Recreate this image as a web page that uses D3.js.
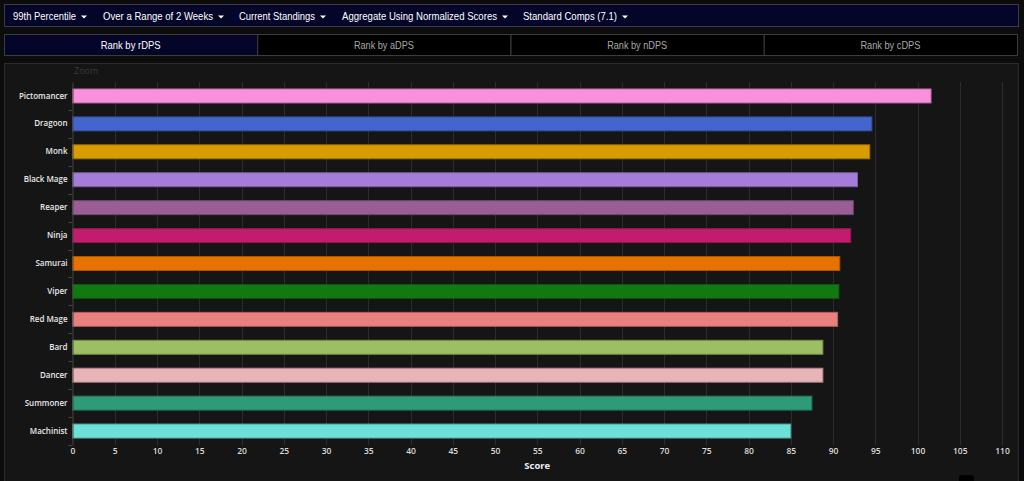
<!DOCTYPE html>
<html><head><meta charset="utf-8">
<script src="https://cdn.jsdelivr.net/npm/d3@7"></script>
<style>
html,body{margin:0;padding:0;background:#0c0c0c;width:1024px;height:481px;overflow:hidden;}
svg{display:block;}
</style></head>
<body><svg id="c" width="1024" height="481"></svg>
<script>
const categories = ["Pictomancer","Dragoon","Monk","Black Mage","Reaper","Ninja","Samurai","Viper","Red Mage","Bard","Dancer","Summoner","Machinist"];
const scores = [101.6, 94.6, 94.35, 92.9, 92.4, 92.1, 90.8, 90.7, 90.55, 88.8, 88.8, 87.5, 85.0];
const colors = ["#f990dd","#4466cc","#d99c00","#a67cdb","#9a5e95","#c21c6c","#e67300","#107a10","#e88080","#9bbf62","#e8b4b8","#2d9a78","#6de0d8"];
const xTicks = [0,5,10,15,20,25,30,35,40,45,50,55,60,65,70,75,80,85,90,95,100,105,110];
const menuItems = ["99th Percentile","Over a Range of 2 Weeks","Current Standings","Aggregate Using Normalized Scores","Standard Comps (7.1)"];
const tabs = ["Rank by rDPS","Rank by aDPS","Rank by nDPS","Rank by cDPS"];

const svg = d3.select("#c");
const uiFont = "'Liberation Sans', Arial, sans-serif";
const chFont = "'Open Sans', 'Noto Sans', sans-serif";

// top nav bar
svg.append("rect").attr("x",4.5).attr("y",4.5).attr("width",1014).attr("height",22)
  .attr("fill","#05052a").attr("stroke","#3a3a4a");
const menuX = [13,103,239,342,523];
const menuW = [63,110,76,155,94];
menuItems.forEach((m,i)=>{
  svg.append("text").attr("x",menuX[i]).attr("y",19.5).attr("fill","#ffffff")
    .attr("font-family",uiFont).attr("font-size",11)
    .attr("textLength",menuW[i]).attr("lengthAdjust","spacingAndGlyphs").text(m);
  const ax = menuX[i]+menuW[i]+5;
  svg.append("path").attr("d",`M${ax},15.5 L${ax+6},15.5 L${ax+3},18.5 Z`).attr("fill","#ffffff");
});

// tabs
const tabX = d3.scaleBand().domain(tabs).range([4,1017]);
const tabW = [60,60,60,60];
tabs.forEach((t,i)=>{
  svg.append("rect").attr("x",tabX(t)+0.5).attr("y",34.5).attr("width",tabX.bandwidth()).attr("height",21)
    .attr("fill", i===0 ? "#05052a" : "#000000").attr("stroke","#3c3c3c");
  svg.append("text").attr("x",tabX(t)+tabX.bandwidth()/2 - tabW[i]/2).attr("y",48.5)
    .attr("fill", i===0 ? "#ffffff" : "#a8a8a8").attr("font-family",uiFont).attr("font-size",11)
    .attr("textLength",tabW[i]).attr("lengthAdjust","spacingAndGlyphs").text(t);
});

// chart panel
svg.append("rect").attr("x",4.5).attr("y",63.5).attr("width",1014).attr("height",430)
  .attr("fill","#151515").attr("stroke","#2a2a2a");
svg.append("rect").attr("x",1019).attr("y",60).attr("width",5).attr("height",421).attr("fill","#0a0a0a");

const m = {left:72.5, right:1002, top:82, bottom:445};
const x = d3.scaleLinear().domain([0,110]).range([m.left,m.right]);
const y = d3.scaleBand().domain(categories).range([m.top,m.bottom]).paddingInner(0.5).paddingOuter(0.25);

svg.append("text").attr("x",74).attr("y",74).attr("fill","#3a3a3a").attr("font-family",chFont)
  .attr("font-size",9).text("Zoom");

// grid
svg.append("g").selectAll("line").data(xTicks.filter(d=>d>0)).join("line")
  .attr("x1",d=>Math.round(x(d))+0.5).attr("x2",d=>Math.round(x(d))+0.5)
  .attr("y1",m.top).attr("y2",m.bottom).attr("stroke","#2c2c2c").attr("stroke-width",1);

// bars
svg.append("g").selectAll("rect").data(categories).join("rect")
  .attr("x",x(0)).attr("y",d=>y(d)).attr("height",y.bandwidth())
  .attr("width",(d,i)=>x(scores[i])-x(0))
  .attr("fill",(d,i)=>colors[i])
  .attr("stroke",(d,i)=>d3.color(colors[i]).darker(0.8)).attr("stroke-width",1);

// y axis
const yAxis = svg.append("g").attr("transform",`translate(${m.left},0)`)
  .call(d3.axisLeft(y).tickSize(0).tickPadding(5));
yAxis.select(".domain").attr("stroke","#444");
yAxis.selectAll("text").attr("fill","#e8e8e8").attr("font-family",chFont).attr("font-size",8).attr("font-weight",600);
// band-boundary ticks
svg.append("g").selectAll("line").data(categories).join("line")
  .attr("x1",m.left-4).attr("x2",m.left)
  .attr("y1",d=>Math.round(y(d)+y.step()*0.75)+0.5).attr("y2",d=>Math.round(y(d)+y.step()*0.75)+0.5)
  .attr("stroke","#444");

// x axis
const xAxis = svg.append("g").attr("transform",`translate(0,${m.bottom})`)
  .call(d3.axisBottom(x).tickValues(xTicks).tickSize(0).tickPadding(3));
xAxis.select(".domain").remove();
xAxis.selectAll("text").attr("fill","#dcdcdc").attr("font-family",chFont).attr("font-size",8.5).attr("font-weight",600);

svg.append("text").attr("x",(x(50)+x(60))/2).attr("y",469).attr("text-anchor","middle")
  .attr("fill","#f0f0f0").attr("font-family",chFont).attr("font-size",9.5).attr("font-weight",700).text("Score");

// small icon bottom
svg.append("rect").attr("x",959).attr("y",475).attr("width",15).attr("height",10).attr("rx",3).attr("fill","#000");
</script>
</body></html>
